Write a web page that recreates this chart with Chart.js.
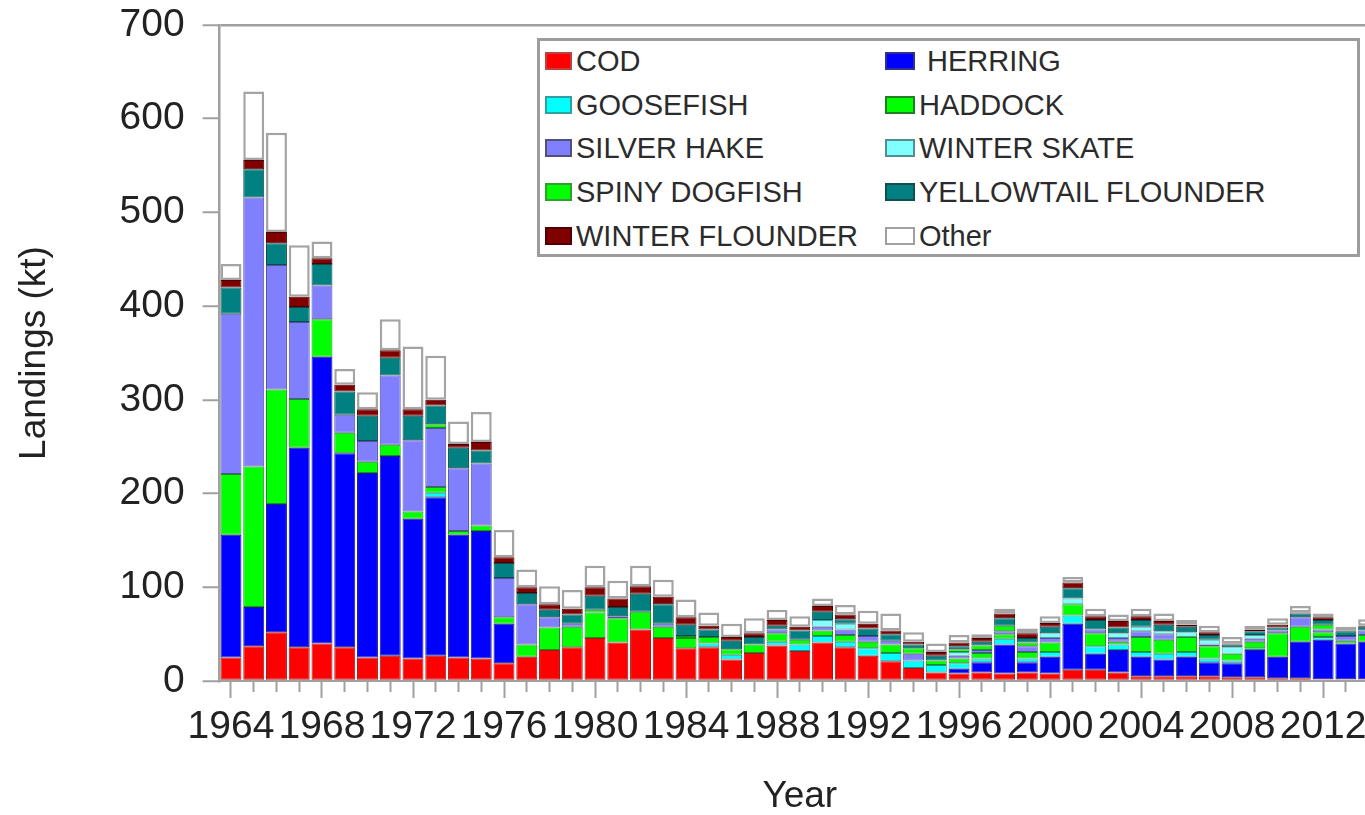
<!DOCTYPE html>
<html>
<head>
<meta charset="utf-8">
<title>Landings by species</title>
<script src="https://cdn.jsdelivr.net/npm/chart.js@4.4.1/dist/chart.umd.min.js"></script>
<style>
  html, body { margin: 0; padding: 0; background: #fff; width: 1365px; height: 815px; overflow: hidden; }
  #wrap { position: absolute; left: 0; top: 0; width: 1400px; height: 815px; }
  #legend {
    position: absolute; left: 537px; top: 38px; width: 817px; height: 213px;
    border: 3px solid #9c9c9c; background: #fff;
    font: 29px "Liberation Sans", Arial, sans-serif; color: #2b2b2b;
  }
  .lg-item { position: absolute; height: 34px; line-height: 34px; white-space: pre; }
  .lg-sw { position: absolute; box-sizing: border-box; height: 18px; }
</style>
</head>
<body>
<div id="wrap">
  <canvas id="chart" width="1400" height="815"></canvas>
  <div id="legend"></div>
</div>
<script>
// Years on the category axis
const years = [1964, 1965, 1966, 1967, 1968, 1969, 1970, 1971, 1972, 1973,
               1974, 1975, 1976, 1977, 1978, 1979, 1980, 1981, 1982, 1983,
               1984, 1985, 1986, 1987, 1988, 1989, 1990, 1991, 1992, 1993,
               1994, 1995, 1996, 1997, 1998, 1999, 2000, 2001, 2002, 2003,
               2004, 2005, 2006, 2007, 2008, 2009, 2010, 2011, 2012, 2013, 2014];

// Landings (kt) per species, one value per year
const cod = [25, 37, 52, 36, 40, 36, 25, 27, 24, 27,
             25, 24, 19, 26, 33, 36, 46, 41, 55, 46,
             35, 36, 23, 30, 38, 32, 41, 36, 27, 21,
             14, 9, 8, 9, 8, 9, 8, 12, 12, 9,
             5, 5, 5, 5, 4, 4, 3, 3, 2, 2, 2];
const herring = [131, 42, 137, 213, 306, 207, 197, 213, 149, 169,
                 131, 136, 42, 0, 0, 0, 0, 0, 0, 0,
                 0, 0, 0, 0, 0, 0, 0, 0, 0, 0,
                 0, 0, 5, 11, 31, 11, 18, 49, 17, 24,
                 21, 18, 21, 15, 15, 29, 23, 39, 42, 38, 40];
const goosefish = [0, 0, 0, 0, 0, 0, 0, 0, 0, 5,
                   0, 0, 0, 0, 0, 0, 0, 0, 0, 0,
                   0, 4, 5, 0, 4, 7, 7, 6, 8, 9,
                   8, 8, 6, 4, 6, 4, 5, 9, 8, 6,
                   5, 6, 5, 4, 3, 2, 0, 0, 3, 0, 0];
const haddock = [65, 150, 122, 52, 40, 22, 12, 12, 8, 6,
                 4, 6, 7, 13, 24, 22, 27, 26, 19, 12,
                 11, 7, 6, 9, 9, 5, 6, 7, 7, 9,
                 0, 5, 5, 6, 5, 7, 10, 12, 14, 3,
                 16, 15, 16, 13, 7, 7, 25, 16, 5, 3, 7];
const silverHake = [171, 287, 133, 82, 36, 19, 22, 74, 76, 63,
                    67, 66, 42, 43, 11, 3, 0, 2, 0, 3,
                    0, 0, 0, 0, 4, 0, 4, 6, 6, 4,
                    7, 0, 3, 3, 3, 6, 5, 0, 4, 4,
                    6, 6, 0, 2, 0, 3, 3, 10, 3, 5, 5];
const winterSkate = [0, 0, 0, 0, 0, 0, 0, 0, 0, 0,
                     0, 0, 0, 0, 0, 0, 0, 0, 0, 0,
                     0, 0, 0, 0, 0, 0, 7, 6, 0, 0,
                     0, 0, 4, 0, 0, 0, 5, 6, 0, 5,
                     5, 3, 5, 5, 7, 4, 0, 0, 0, 0, 0];
const spinyDogfish = [0, 0, 0, 0, 0, 0, 0, 0, 0, 4,
                      0, 0, 0, 0, 0, 0, 3, 0, 0, 0,
                      2, 0, 0, 0, 0, 0, 0, 0, 0, 0,
                      6, 0, 3, 5, 6, 4, 0, 0, 0, 0,
                      0, 0, 0, 0, 0, 0, 0, 0, 5, 0, 0];
const yellowtail = [28, 30, 23, 16, 23, 25, 27, 19, 26, 20,
                    22, 14, 16, 12, 8, 10, 15, 10, 19, 21,
                    12, 8, 9, 8, 4, 10, 9, 5, 8, 7,
                    4, 5, 3, 4, 8, 5, 7, 11, 10, 6,
                    7, 7, 6, 5, 3, 4, 3, 4, 5, 5, 4];
const winterFlounder = [8, 10, 12, 11, 6, 7, 7, 8, 7, 6,
                        4, 9, 6, 6, 6, 6, 9, 9, 8, 8,
                        8, 4, 4, 4, 6, 4, 6, 5, 5, 4,
                        3, 4, 4, 4, 5, 5, 4, 6, 4, 7,
                        4, 4, 2, 3, 1, 2, 3, 1, 3, 1, 1];
const other = [17, 73, 106, 55, 18, 17, 18, 33, 67, 47,
               24, 32, 29, 19, 19, 20, 23, 19, 22, 18,
               19, 14, 14, 16, 11, 11, 8, 10, 14, 18,
               10, 9, 8, 4, 5, 5, 7, 6, 8, 7,
               8, 8, 5, 7, 7, 4, 7, 7, 4, 4, 7];

// Legend labels, fills and outlines, in stacking order (bottom to top)
const seriesNames = ['COD', ' HERRING', 'GOOSEFISH', 'HADDOCK', 'SILVER HAKE',
                     'WINTER SKATE', 'SPINY DOGFISH', 'YELLOWTAIL FLOUNDER', 'WINTER FLOUNDER', 'Other'];
const seriesValues = [cod, herring, goosefish, haddock, silverHake,
                      winterSkate, spinyDogfish, yellowtail, winterFlounder, other];
const seriesColors = ['#ff0000', '#0000ff', '#00ffff', '#00ff00', '#8080ff',
                      '#80ffff', '#00ff00', '#008080', '#800000', '#ffffff'];
const segmentEdges = ['#a01818', '#1a1a90', '#209090', '#1a901a', '#5050a0',
                      '#50a0a0', '#1a901a', '#0d4a4a', '#4a0000', '#a4a4a4'];
const swatchBorders = ['#c04040', '#303090', '#30a0a0', '#208020', '#50507a',
                       '#509090', '#30a030', '#105050', '#500000', '#a0a0a0'];

const tickFont = { family: '"Liberation Sans", Arial, sans-serif', size: 39 };
const titleFont = { family: '"Liberation Sans", Arial, sans-serif', size: 37, lineHeight: 1 };
const axisGray = '#a0a0a0';

const datasets = seriesNames.map((name, i) => ({
  label: name.trim(),
  data: seriesValues[i],
  backgroundColor: seriesColors[i],
  borderColor: segmentEdges[i],
  borderWidth: name === 'Other' ? 2.5 : 1,
  borderSkipped: false,
  categoryPercentage: 1,
  barPercentage: 0.92
}));

const isMajor = i => (years[i] - 1964) % 4 === 0;

const chart = new Chart(document.getElementById('chart'), {
  type: 'bar',
  data: { labels: years, datasets },
  options: {
    responsive: false,
    animation: false,
    layout: { padding: { top: 25, right: 20, left: 0, bottom: 0 } },
    plugins: { legend: { display: false }, tooltip: { enabled: false } },
    scales: {
      x: {
        stacked: true,
        offset: true,
        border: { display: true, color: axisGray, width: 2 },
        grid: {
          offset: false,
          drawOnChartArea: false,
          tickLength: 17,
          tickWidth: 2,
          tickColor: axisGray,
          tickBorderDash: c => isMajor(c.index) ? [] : [10, 40]
        },
        ticks: {
          autoSkip: false, maxRotation: 0, minRotation: 0,
          padding: 6, color: '#222', font: tickFont,
          callback: (v, i) => isMajor(i) ? String(years[i]) : ''
        },
        title: { display: true, text: 'Year', color: '#222', font: titleFont, padding: 0 },
        afterFit: s => { s.height = 134; s.paddingLeft = 0; s.paddingRight = 0; }
      },
      y: {
        stacked: true,
        min: 0, max: 700,
        border: { display: true, color: axisGray, width: 2.5 },
        grid: {
          color: c => (c.tick && c.tick.value === 700) ? axisGray : 'rgba(0,0,0,0)',
          lineWidth: 2.5,
          tickLength: 17,
          tickWidth: 2,
          tickColor: axisGray
        },
        ticks: { stepSize: 100, padding: 18, color: '#222', font: tickFont },
        title: {
          display: true, text: 'Landings (kt)', color: '#222',
          font: { family: '"Liberation Sans", Arial, sans-serif', size: 37, lineHeight: 1.2 },
          padding: { top: 13, bottom: 0 }
        },
        afterFit: s => { s.width = 219.6; s.paddingTop = 0; s.paddingBottom = 0; }
      }
    }
  }
});

// Two-column legend box built from the chart's datasets
const legend = document.getElementById('legend');
const rowCenters = [61, 105, 148, 192, 236];
const boxLeft = 537 + 3, boxTop = 38 + 3;
chart.data.datasets.forEach((ds, i) => {
  const row = Math.floor(i / 2), col = i % 2;
  const swLeft = col === 0 ? 545 : 885;
  const swWidth = col === 0 ? 27 : 30;
  const cy = rowCenters[row];
  const sw = document.createElement('div');
  sw.className = 'lg-sw';
  sw.style.left = (swLeft - boxLeft) + 'px';
  sw.style.top = (cy - 9 - boxTop) + 'px';
  sw.style.width = swWidth + 'px';
  sw.style.background = ds.backgroundColor;
  sw.style.border = (ds.label === 'Other' ? 2.5 : 2) + 'px solid ' + swatchBorders[i];
  legend.appendChild(sw);
  const tx = document.createElement('div');
  tx.className = 'lg-item';
  tx.style.left = (swLeft + swWidth + 4 - boxLeft) + 'px';
  tx.style.top = (cy - 16.6 - boxTop) + 'px';
  tx.textContent = seriesNames[i];
  legend.appendChild(tx);
});
</script>
</body>
</html>
